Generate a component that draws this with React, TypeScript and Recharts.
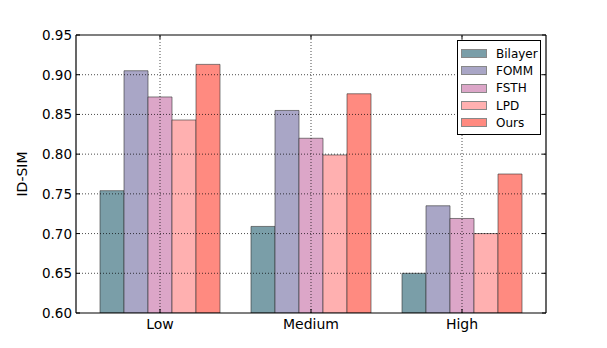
import React from 'react';
import { BarChart, Bar, XAxis, YAxis, Legend, ReferenceLine } from 'recharts';

const levels = ['Low', 'Medium', 'High'];
const bilayer = [0.754, 0.709, 0.650];
const fomm = [0.905, 0.855, 0.735];
const fsth = [0.872, 0.820, 0.719];
const lpd = [0.843, 0.799, 0.700];
const ours = [0.913, 0.876, 0.775];
const yTicks = [0.6, 0.65, 0.7, 0.75, 0.8, 0.85, 0.9, 0.95];

const series = [
    { key: 'Bilayer', values: bilayer, color: '#7a9ea8' },
    { key: 'FOMM', values: fomm, color: '#a9a6c6' },
    { key: 'FSTH', values: fsth, color: '#dca6c8' },
    { key: 'LPD', values: lpd, color: '#ffb0b0' },
    { key: 'Ours', values: ours, color: '#ff8a80' },
];

const data = levels.map((name, i) => {
    const row: any = { name };
    series.forEach((s) => { row[s.key] = s.values[i]; });
    return row;
});

const FONT = '"DejaVu Sans", sans-serif';
const gridStyle = { stroke: '#000', strokeOpacity: 0.7, strokeDasharray: '1 2', strokeWidth: 1 };

const LeftTick = (props: any) => {
    const { x, y, payload } = props;
    return (
        <g>
            <line x1={x} y1={y} x2={x + 4} y2={y} stroke="#000" strokeWidth={1} />
            <text x={x - 4} y={y} dy={5} textAnchor="end" fontSize={13.5} fontFamily={FONT} fill="#000">
                {payload.value.toFixed(2)}
            </text>
        </g>
    );
};

const RightTick = (props: any) => {
    const { x, y } = props;
    return <line x1={x - 4} y1={y} x2={x} y2={y} stroke="#000" strokeWidth={1} />;
};

const BottomTick = (props: any) => {
    const { x, y, payload } = props;
    return (
        <g>
            <line x1={x} y1={y - 4} x2={x} y2={y} stroke="#000" strokeWidth={1} />
            <text x={x} y={y + 16} textAnchor="middle" fontSize={14} fontFamily={FONT} fill="#000">
                {payload.value}
            </text>
        </g>
    );
};

const TopTick = (props: any) => {
    const { x, y } = props;
    return <line x1={x} y1={y} x2={x} y2={y + 4} stroke="#000" strokeWidth={1} />;
};

const LegendBox = () => (
    <div
        style={{
            border: '1px solid #000',
            background: '#fff',
            width: 82,
            padding: '4px 0 3px 0',
            fontFamily: FONT,
            fontSize: 12,
        }}
    >
        {series.map((s) => (
            <div key={s.key} style={{ display: 'flex', alignItems: 'center', height: 17.3 }}>
                <span
                    style={{
                        display: 'inline-block',
                        marginLeft: 3,
                        width: 24,
                        height: 7,
                        background: s.color,
                        border: '1px solid #888',
                    }}
                />
                <span style={{ marginLeft: 9, color: '#000' }}>{s.key}</span>
            </div>
        ))}
    </div>
);

export default function App() {
    return (
        <div style={{ position: 'absolute', left: 0, top: 0, width: 607, height: 348, background: '#fff' }}>
            <BarChart
                width={607}
                height={348}
                data={data}
                margin={{ top: 34, right: 60, bottom: 0, left: 0 }}
                barCategoryGap={15.5}
                barGap={0}
            >
                {series.map((s) => (
                    <Bar
                        key={s.key}
                        dataKey={s.key}
                        fill={s.color}
                        stroke="#333"
                        strokeOpacity={0.6}
                        strokeWidth={1}
                        isAnimationActive={false}
                    />
                ))}
                {yTicks.slice(1, -1).map((t) => (
                    <ReferenceLine key={'y' + t} y={t} {...gridStyle} />
                ))}
                {levels.map((l) => (
                    <ReferenceLine key={'x' + l} x={l} {...gridStyle} />
                ))}
                <XAxis
                    dataKey="name"
                    height={35}
                    padding={{ left: 8.5, right: 8.5 }}
                    tickLine={false}
                    tickSize={0}
                    tickMargin={0}
                    tick={<BottomTick />}
                    axisLine={{ stroke: '#000', strokeWidth: 1.2 }}
                />
                <XAxis
                    xAxisId="top"
                    orientation="top"
                    dataKey="name"
                    height={1}
                    padding={{ left: 8.5, right: 8.5 }}
                    tickLine={false}
                    tickSize={0}
                    tickMargin={0}
                    tick={<TopTick />}
                    axisLine={{ stroke: '#000', strokeWidth: 1.2 }}
                />
                <YAxis
                    domain={[0.6, 0.95]}
                    ticks={yTicks}
                    width={76}
                    tickLine={false}
                    tickSize={0}
                    tickMargin={0}
                    tick={<LeftTick />}
                    allowDataOverflow
                    axisLine={{ stroke: '#000', strokeWidth: 1.2 }}
                    label={{
                        value: 'ID-SIM',
                        angle: -90,
                        position: 'insideLeft',
                        offset: 22,
                        style: { fontFamily: FONT, fontSize: 14, fill: '#000', textAnchor: 'middle' },
                    }}
                />
                <YAxis
                    yAxisId="right"
                    orientation="right"
                    domain={[0.6, 0.95]}
                    ticks={yTicks}
                    width={1}
                    tickLine={false}
                    tickSize={0}
                    tickMargin={0}
                    tick={<RightTick />}
                    allowDataOverflow
                    axisLine={{ stroke: '#000', strokeWidth: 1.2 }}
                />
                <Legend
                    layout="vertical"
                    align="center"
                    verticalAlign="middle"
                    content={<LegendBox />}
                    wrapperStyle={{ position: 'absolute', left: 457, top: 40, width: 84 }}
                />
            </BarChart>
        </div>
    );
}
